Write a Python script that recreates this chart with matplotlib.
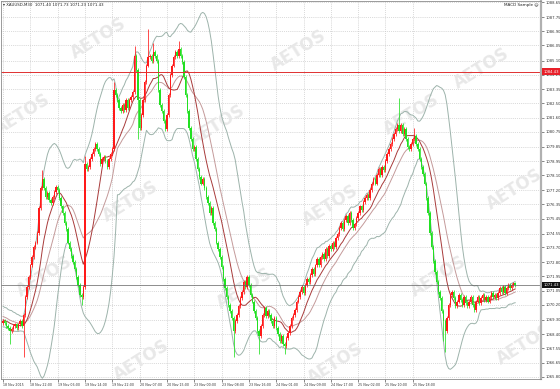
import matplotlib
matplotlib.use("Agg")
import matplotlib.pyplot as plt
import matplotlib.transforms as mtransforms
import numpy as np
import pandas as pd

# ---------------- data ----------------
prior_closes = [1070.2, 1070.0, 1069.8, 1070.1, 1069.9, 1069.6, 1069.8, 1069.5, 1069.7, 1069.4,
                1069.6, 1069.3, 1069.5, 1069.2, 1069.4, 1069.1, 1069.3, 1069.0, 1069.2, 1069.1]

closes = [
    1069.2, 1069.1, 1068.9, 1068.8, 1068.6, 1068.7, 1068.9, 1069.0, 1068.8, 1069.0,
    1069.2, 1068.9, 1069.6, 1070.7, 1071.3, 1071.9, 1072.6, 1073.1, 1073.7, 1074.0,
    1074.6, 1076.1, 1077.3, 1077.9, 1077.3, 1076.8, 1077.0, 1076.6, 1076.4, 1076.8,
    1077.1, 1077.4, 1077.2, 1076.7, 1076.2, 1075.8, 1075.2, 1074.8, 1074.0, 1073.6,
    1073.2, 1072.8, 1072.4, 1071.9, 1071.4, 1070.8, 1070.7, 1071.3, 1078.8, 1078.5,
    1078.6, 1079.1, 1079.4, 1079.7, 1080.0, 1079.7, 1079.4, 1078.8, 1079.1, 1079.2,
    1079.0, 1078.6, 1079.1, 1079.4, 1079.7, 1083.3, 1083.0, 1082.7, 1082.2, 1082.0,
    1082.4, 1082.1, 1082.7, 1082.2, 1082.7, 1082.9, 1083.2, 1085.4, 1084.5, 1082.7,
    1081.0, 1081.8, 1082.7, 1083.8, 1084.8, 1085.3, 1085.4, 1085.1, 1085.6, 1085.4,
    1085.1, 1083.3, 1082.4, 1082.0, 1081.4, 1080.9, 1081.8, 1083.0, 1084.2, 1084.8,
    1085.3, 1085.6, 1085.4, 1085.8, 1085.4, 1085.0, 1084.1, 1083.0, 1082.0, 1081.0,
    1080.3, 1079.7, 1079.8, 1079.1, 1078.5, 1078.0, 1077.6, 1077.9, 1077.3, 1076.8,
    1076.4, 1075.8, 1076.1, 1075.2, 1074.8, 1074.0, 1073.6, 1073.1, 1072.5, 1071.8,
    1071.2, 1070.7, 1070.2, 1069.8, 1069.4, 1068.6, 1069.2, 1069.6, 1070.1, 1070.6,
    1071.0, 1071.6, 1071.3, 1071.9, 1071.4, 1070.8, 1070.4, 1069.8, 1069.4, 1068.6,
    1068.3, 1068.9, 1069.6, 1070.0, 1069.5, 1069.8, 1069.6, 1069.2, 1068.9, 1069.4,
    1068.8, 1068.4, 1068.0, 1068.3, 1067.8, 1067.7, 1068.2, 1068.5, 1068.9, 1069.4,
    1069.6, 1069.9, 1070.4, 1070.7, 1071.0, 1071.3, 1070.9, 1071.4, 1071.8, 1071.6,
    1072.0, 1072.4, 1072.1, 1072.6, 1073.0, 1072.6, 1073.1, 1073.3, 1073.0, 1073.6,
    1073.2, 1073.8, 1073.6, 1074.0, 1073.7, 1074.3, 1074.5, 1074.9, 1075.2, 1074.8,
    1075.4, 1075.6, 1075.2, 1075.8, 1075.4, 1074.9, 1075.1, 1075.5, 1075.8, 1076.2,
    1076.0, 1076.5, 1076.7, 1076.9, 1076.7, 1077.2, 1077.6, 1077.9, 1077.6, 1078.1,
    1078.5, 1078.1, 1078.6, 1078.4, 1079.0, 1079.4, 1079.7, 1080.0, 1080.3, 1080.6,
    1080.9, 1081.2, 1080.8, 1081.2, 1080.6, 1080.9, 1080.3, 1079.8, 1079.7, 1080.0,
    1080.3, 1080.5, 1080.0, 1079.7, 1079.1, 1078.6, 1078.2, 1077.6, 1076.7, 1075.8,
    1074.6, 1073.7, 1072.9, 1072.2, 1071.6, 1071.0, 1070.6, 1069.8, 1069.2, 1068.6,
    1069.4, 1070.2, 1070.8, 1071.0, 1070.6, 1070.1, 1070.4, 1070.8, 1070.5, 1070.2,
    1070.7, 1070.3, 1070.1, 1070.4, 1070.7, 1070.2, 1069.9, 1070.4, 1070.7, 1070.3,
    1070.6, 1070.8, 1070.5, 1070.7, 1070.4, 1070.7, 1070.9, 1070.7, 1070.8, 1070.6,
    1070.9, 1071.2, 1071.0, 1071.3, 1070.9, 1071.2, 1071.4, 1071.2, 1071.4, 1071.5,
    1071.43,
]
first_open = 1069.1
wick = 0.12
long_highs = {23: 1078.4, 48: 1079.3, 65: 1083.8, 77: 1086.0, 85: 1087.0, 88: 1086.2,
              103: 1086.3, 232: 1082.8, 241: 1081.0}
long_lows = {4: 1067.8, 12: 1067.0, 46: 1070.2, 79: 1080.3, 135: 1067.0, 150: 1067.2,
             165: 1067.2, 258: 1068.0, 259: 1067.3}

price_ticks = [1065.80, 1066.65, 1067.55, 1068.40, 1069.30, 1070.20, 1071.05, 1071.95,
               1072.80, 1073.70, 1074.55, 1075.45, 1076.35, 1077.20, 1078.10, 1078.95,
               1079.85, 1080.75, 1081.60, 1082.50, 1083.35, 1084.25, 1085.10, 1086.05,
               1086.90, 1087.75, 1088.65]
time_labels = ["18 Nov 2015", "18 Nov 22:00", "19 Nov 06:00", "19 Nov 14:00", "19 Nov 22:00",
               "20 Nov 07:00", "20 Nov 15:00", "23 Nov 00:00", "23 Nov 08:00", "23 Nov 16:00",
               "24 Nov 01:00", "24 Nov 09:00", "24 Nov 17:00", "25 Nov 02:00", "25 Nov 10:00",
               "25 Nov 18:00"]
bars_per_label = 16
alert_price = 1084.43
bid_price = 1071.43
symbol_header = "XAUUSD,M30  1071.40 1071.73 1071.23 1071.43"
expert_name = "MACD Sample"

# ---------------- derived ----------------
c = np.array(closes)
o = np.concatenate([[first_open], c[:-1]])
x = np.arange(len(c))
hi = np.maximum(o, c) + wick
lo = np.minimum(o, c) - wick
for k, v in long_highs.items():
    hi[k] = max(hi[k], v)
for k, v in long_lows.items():
    lo[k] = min(lo[k], v)

full = pd.Series(prior_closes + closes)
n0 = len(prior_closes)
mid = full.rolling(20).mean().values[n0:]
sd = full.rolling(20).std(ddof=0).values[n0:]
upper = mid + 2 * sd
lower = mid - 2 * sd
ma_fast = full.rolling(12).mean().values[n0:]

# ---------------- figure ----------------
fig = plt.figure(figsize=(5.6, 3.89), dpi=100)
ax = fig.add_axes([0.0018, 0.026, 0.9645, 0.972])
ax.set_facecolor("white")
ax.set_xlim(-1.2, 315.2)
ax.set_ylim(1065.68, 1088.75)

ax.yaxis.tick_right()
ax.set_yticks(price_ticks)
ax.set_yticklabels([f"{v:.2f}" for v in price_ticks], fontsize=2.7, color="#333333")
ax.set_xticks(np.arange(len(time_labels)) * bars_per_label)
ax.set_xticklabels(time_labels, fontsize=2.3, color="#333333", ha="left")
ax.tick_params(axis="both", length=2, width=0.5, pad=1.2, colors="#555555")
for lab in ax.get_xticklabels() + ax.get_yticklabels():
    lab.set_color("#333333")
ax.grid(True, ls=(0, (1, 1.5)), color="#c4c4c4", lw=0.55)
ax.set_axisbelow(True)
for s in ax.spines.values():
    s.set_color("#8a8a8a")
    s.set_linewidth(0.6)
ax.spines["right"].set_linewidth(1.6)
ax.spines["right"].set_color("#b0b0b0")

# watermark
wm_pos = [(0.18, 0.90), (0.55, 0.87), (0.89, 0.82),
          (0.04, 0.70), (0.40, 0.67), (0.76, 0.70),
          (0.24, 0.47), (0.61, 0.46), (0.95, 0.50),
          (0.08, 0.27), (0.45, 0.24), (0.81, 0.27),
          (0.26, 0.05), (0.62, 0.04), (0.97, 0.09)]
for px, py in wm_pos:
    ax.text(px, py, "AETOS", transform=ax.transAxes, rotation=32, fontsize=12,
            fontweight="bold", color="#e8e8e8", ha="center", va="center", zorder=0.6,
            clip_on=True)

# indicators
band_col = "#9db3ab"
ax.plot(x, upper, color=band_col, lw=0.7, zorder=1.5)
ax.plot(x, lower, color=band_col, lw=0.7, zorder=1.5)
ax.plot(x, mid, color="#c49a9a", lw=0.7, zorder=1.6)
ax.plot(x, ma_fast, color="#a83a3a", lw=0.7, zorder=1.7)

# candles
up = c >= o
cols = np.where(up, "#ff1a1a", "#22e022")
ax.vlines(x, lo, hi, colors=cols, lw=0.55, zorder=2)
body_h = np.maximum(np.abs(c - o), 0.03)
ax.bar(x, body_h, bottom=np.minimum(o, c), width=0.8, color=cols, linewidth=0, zorder=2.1)

# price lines
ax.axhline(alert_price, color="#e03030", lw=0.7, zorder=2.5)
ax.axhline(bid_price, color="#606060", lw=0.5, zorder=2.5)
trans = mtransforms.blended_transform_factory(ax.transAxes, ax.transData)
ax.text(1.004, alert_price, f"{alert_price:.2f}", transform=trans, fontsize=2.7, color="white",
        va="center", ha="left", bbox=dict(boxstyle="square,pad=0.3", fc="#e8202a", ec="none"),
        zorder=5, clip_on=False)
ax.text(1.004, bid_price, f"{bid_price:.2f}", transform=trans, fontsize=2.7, color="white",
        va="center", ha="left", bbox=dict(boxstyle="square,pad=0.3", fc="#111111", ec="none"),
        zorder=5, clip_on=False)

# header texts
ax.text(0.004, 0.993, "\u25be " + symbol_header, transform=ax.transAxes, fontsize=2.8,
        color="#222222", va="top", ha="left", zorder=6)
ax.text(0.996, 0.993, expert_name + " \u263a", transform=ax.transAxes, fontsize=3.0,
        color="#222222", va="top", ha="right", zorder=6)

fig.savefig("out.png", dpi=100, facecolor="white")
